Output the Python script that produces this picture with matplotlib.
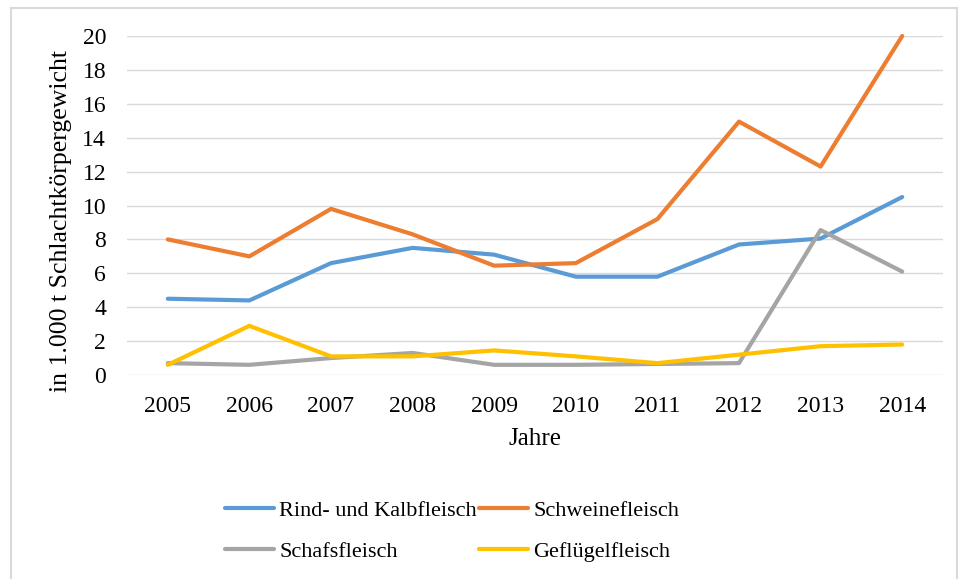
import matplotlib.pyplot as plt
from matplotlib.patches import Rectangle

plt.rcParams['font.family'] = ['Liberation Serif', 'DejaVu Serif']

# ---- Data ----
years = [2005, 2006, 2007, 2008, 2009, 2010, 2011, 2012, 2013, 2014]
rind = [4.5, 4.4, 6.6, 7.5, 7.1, 5.8, 5.8, 7.7, 8.05, 10.5]
schwein = [8.0, 7.0, 9.8, 8.3, 6.45, 6.6, 9.2, 14.95, 12.3, 20.0]
schaf = [0.7, 0.6, 1.0, 1.3, 0.6, 0.6, 0.65, 0.7, 8.55, 6.1]
gefluegel = [0.6, 2.9, 1.1, 1.1, 1.45, 1.1, 0.7, 1.2, 1.7, 1.8]

series = [
    ("Rind- und Kalbfleisch", rind, "#5B9BD5"),
    ("Schweinefleisch", schwein, "#ED7D31"),
    ("Schafsfleisch", schaf, "#A5A5A5"),
    ("Geflügelfleisch", gefluegel, "#FFC000"),
]

fig = plt.figure(figsize=(9.59, 5.79), dpi=100)
# light frame around the chart area
fig.patches.append(Rectangle((11 / 959, -0.05), 946 / 959, 1 - 8 / 579 + 0.05,
                             transform=fig.transFigure, fill=False,
                             edgecolor="#D9D9D9", linewidth=1.5))

ax = fig.add_axes([127 / 959, 1 - 375 / 579, 816 / 959, 339 / 579])

x = list(range(len(years)))
lines = []
for label, vals, color in series:
    ln, = ax.plot(x, vals, color=color, linewidth=3, label=label,
                  solid_capstyle="round", clip_on=False)
    lines.append(ln)

ax.set_xlim(-0.5, len(years) - 0.5)
ax.set_ylim(0, 20)
ax.set_yticks(range(0, 21, 2))
ax.set_xticks(x)
ax.set_xticklabels([str(y) for y in years])
ax.yaxis.grid(True, color="#D9D9D9", linewidth=1)
ax.set_axisbelow(True)
for s in ax.spines.values():
    s.set_visible(False)
ax.tick_params(length=0, labelsize=17, colors="black")
ax.tick_params(axis="x", pad=15)
ax.tick_params(axis="y", pad=15)

ax.set_xlabel("Jahre", fontsize=18, labelpad=8)
ax.set_ylabel("in 1.000 t Schlachtkörpergewicht", fontsize=18.5)
ax.yaxis.set_label_coords(-0.068, 0.455)

# legend row order: Rind, Schwein / Schaf, Geflügel (matplotlib fills by column)
order = [0, 2, 1, 3]
fig.legend([lines[i] for i in order], [series[i][0] for i in order],
           loc="center", bbox_to_anchor=(452 / 959, 1 - 531 / 579),
           ncol=2, frameon=False, fontsize=16, handlelength=2.2,
           columnspacing=0.1, handletextpad=0.25, labelspacing=0.9)

fig.savefig("out.png", dpi=100)
